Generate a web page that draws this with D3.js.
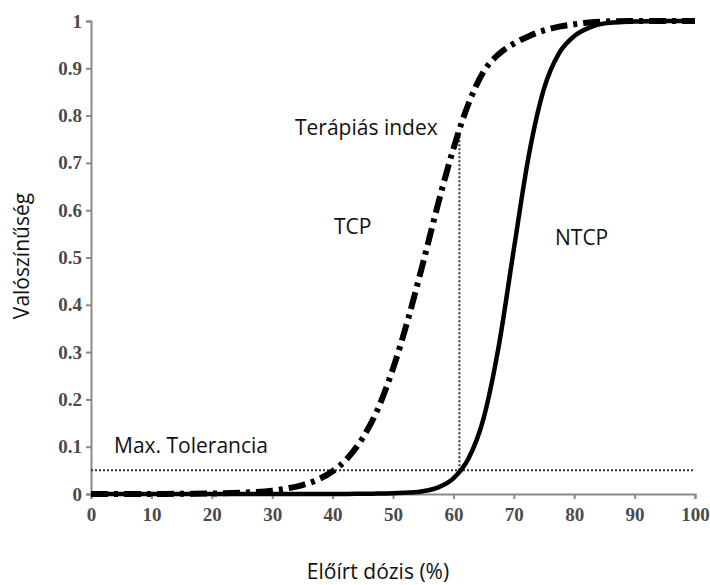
<!DOCTYPE html>
<html>
<head>
<meta charset="utf-8">
<script src="https://cdn.jsdelivr.net/npm/d3@7"></script>
<style>
  html, body { margin: 0; padding: 0; background: #fff; }
  svg { display: block; }
</style>
</head>
<body>
<svg id="chart" width="710" height="585"></svg>
<script>
// ---- data ----
const doses = [0, 5, 10, 15, 20, 25, 30, 32.5, 35, 37.5, 40, 42.5, 45, 47.5, 50, 52.5, 55, 57.5, 60, 62.5, 65, 67.5, 70, 72.5, 75, 77.5, 80, 82.5, 85, 90, 95, 100];
const tcp = [0, 0, 0.0001, 0.0004, 0.001, 0.003, 0.007, 0.012, 0.019, 0.03, 0.048, 0.076, 0.119, 0.18, 0.265, 0.37, 0.49, 0.615, 0.73, 0.825, 0.893, 0.93, 0.952, 0.968, 0.98, 0.988, 0.993, 0.997, 0.999, 1, 1, 1];
const ntcp = [0, 0, 0, 0, 0, 0, 0, 0, 0, 0, 0, 0.0002, 0.0004, 0.0008, 0.0015, 0.003, 0.006, 0.014, 0.033, 0.075, 0.16, 0.312, 0.517, 0.717, 0.857, 0.932, 0.968, 0.986, 0.995, 0.999, 1, 1];
const xTicks = [0, 10, 20, 30, 40, 50, 60, 70, 80, 90, 100];
const yTicks = [0, 0.1, 0.2, 0.3, 0.4, 0.5, 0.6, 0.7, 0.8, 0.9, 1];
const maxTolerance = 0.05;
const indexDose = 61;
const indexTop = 0.765;
const labels = {
  yTitle: "Valószínűség",
  xTitle: "Előírt dózis (%)",
  tcp: "TCP",
  ntcp: "NTCP",
  index: "Terápiás index",
  tol: "Max. Tolerancia"
};

// ---- layout ----
const svg = d3.select("#chart");
const x = d3.scaleLinear().domain([0, 100]).range([91, 695]);
const y = d3.scaleLinear().domain([0, 1]).range([494, 21]);

const axisColor = "#8a8a8a";
const tickFont = "'Liberation Serif', 'Times New Roman', serif";
const textFont = "'Open Sans', 'Noto Sans', sans-serif";

// x axis
const gx = svg.append("g").attr("transform", `translate(0,${y(0)})`)
  .call(d3.axisBottom(x).tickValues(xTicks).tickFormat(d3.format("d")).tickSize(5).tickPadding(9));
// y axis
const gy = svg.append("g").attr("transform", `translate(${x(0)},0)`)
  .call(d3.axisLeft(y).tickValues(yTicks).tickFormat(d => d === 0 || d === 1 ? String(d) : d3.format(".1f")(d)).tickSize(5).tickPadding(4));

[gx, gy].forEach(g => {
  g.select(".domain").attr("stroke", axisColor).attr("stroke-width", 2);
  g.selectAll(".tick line").attr("stroke", axisColor).attr("stroke-width", 2);
  g.selectAll(".tick text")
    .attr("fill", "#4a4a4a")
    .style("font-family", tickFont)
    .style("font-weight", "bold")
    .style("font-size", "19px");
});

// dotted reference lines
svg.append("line")
  .attr("x1", x(0)).attr("x2", x(100))
  .attr("y1", y(maxTolerance)).attr("y2", y(maxTolerance))
  .attr("stroke", "#333").attr("stroke-width", 2).attr("stroke-dasharray", "2,2");
svg.append("line")
  .attr("x1", x(indexDose)).attr("x2", x(indexDose))
  .attr("y1", y(maxTolerance)).attr("y2", y(indexTop))
  .attr("stroke", "#333").attr("stroke-width", 2).attr("stroke-dasharray", "2,2");

// curves
const line = d3.line().x(d => x(d[0])).y(d => y(d[1])).curve(d3.curveMonotoneX);
svg.append("path")
  .datum(doses.map((d, i) => [d, ntcp[i]]))
  .attr("d", line).attr("fill", "none")
  .attr("stroke", "#000").attr("stroke-width", 4.5);
svg.append("path")
  .datum(doses.map((d, i) => [d, tcp[i]]))
  .attr("d", line).attr("fill", "none")
  .attr("stroke", "#000").attr("stroke-width", 6)
  .attr("stroke-dasharray", "17,6,4,6");

// text labels
function label(txt, px, py, anchor, size) {
  return svg.append("text").attr("x", px).attr("y", py)
    .attr("text-anchor", anchor || "start")
    .style("font-family", textFont).style("font-size", (size || 21) + "px")
    .attr("fill", "#111").text(txt);
}
label(labels.index, 295, 135);
label(labels.tcp, 334, 234);
label(labels.ntcp, 555, 245);
label(labels.tol, 114, 453);
label(labels.xTitle, 378, 579, "middle");
svg.append("text")
  .attr("transform", `translate(29,256) rotate(-90)`)
  .attr("text-anchor", "middle")
  .style("font-family", textFont).style("font-size", "21px")
  .attr("fill", "#111").text(labels.yTitle);
</script>
</body>
</html>
